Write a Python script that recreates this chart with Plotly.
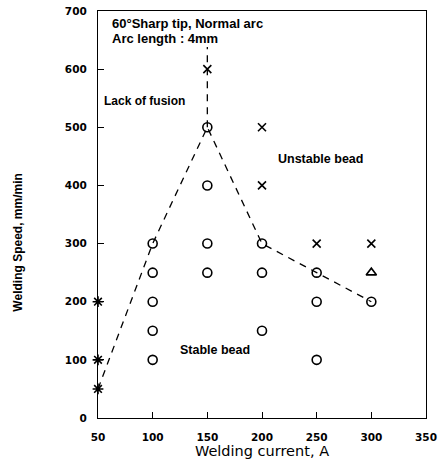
import plotly.graph_objects as go

# Data
stable_x = [100, 100, 100, 100, 100, 150, 150, 150, 150, 200, 200, 200, 250, 250, 250, 300]
stable_y = [300, 250, 200, 150, 100, 500, 400, 300, 250, 300, 250, 150, 250, 200, 100, 200]
unstable_x = [150, 200, 200, 250, 300]
unstable_y = [600, 500, 400, 300, 300]
lof_x = [50, 50, 50]
lof_y = [200, 100, 50]
tri_x = [300]
tri_y = [250]
bound_x = [50, 100, 150, 200, 250, 300]
bound_y = [50, 300, 500, 300, 250, 200]
vert_x = [150, 150]
vert_y = [500, 638]

x_ticks = [50, 100, 150, 200, 250, 300, 350]
y_ticks = [0, 100, 200, 300, 400, 500, 600, 700]

FONT = "Liberation Sans"
WIDE = "DejaVu Sans"

fig = go.Figure()
fig.add_trace(go.Scatter(x=bound_x, y=bound_y, mode="lines",
                         line=dict(color="black", width=1.3, dash="7px,6px"), showlegend=False))
fig.add_trace(go.Scatter(x=vert_x, y=vert_y, mode="lines",
                         line=dict(color="black", width=1.3, dash="7px,6px"), showlegend=False))
fig.add_trace(go.Scatter(x=stable_x, y=stable_y, mode="markers",
                         marker=dict(symbol="circle-open", size=9, color="black", line=dict(width=1.6)),
                         showlegend=False))
fig.add_trace(go.Scatter(x=unstable_x, y=unstable_y, mode="markers",
                         marker=dict(symbol="x-thin-open", size=8, color="black", line=dict(width=1.6)),
                         showlegend=False))
fig.add_trace(go.Scatter(x=lof_x, y=lof_y, mode="markers",
                         marker=dict(symbol="asterisk-open", size=9, color="black", line=dict(width=1.6)),
                         showlegend=False, cliponaxis=False))
fig.add_trace(go.Scatter(x=tri_x, y=tri_y, mode="markers",
                         marker=dict(symbol="triangle-up-open", size=9, color="black", line=dict(width=1.6)),
                         showlegend=False))

tickfont = dict(family=WIDE, size=10.5, color="black", weight="bold")
fig.update_xaxes(range=[50, 350], tickvals=x_ticks, ticks="inside", ticklen=6, tickcolor="black",
                 showline=True, linecolor="black", linewidth=1.3, mirror=True, showgrid=False,
                 zeroline=False, tickfont=tickfont, ticklabelstandoff=9, automargin=False,
                 title=dict(text="Welding current, A", font=dict(family=WIDE, size=14.5, color="black"), standoff=2))
fig.update_yaxes(range=[0, 700], tickvals=y_ticks, ticks="inside", ticklen=6, tickcolor="black",
                 showline=True, linecolor="black", linewidth=1.3, mirror=True, showgrid=False,
                 zeroline=False, tickfont=tickfont, ticklabelstandoff=8, automargin=False)

def ann(x, y, text, size):
    fig.add_annotation(x=x, y=y, xref="x", yref="y", text="<b>" + text + "</b>",
                       showarrow=False, xanchor="left", yanchor="middle",
                       font=dict(family=FONT, size=size, color="black"))

ann(61, 679, "60°Sharp tip, Normal arc", 13)
ann(61, 652, "Arc length : 4mm", 13)
ann(54, 545, "Lack of fusion", 12)
ann(213, 446, "Unstable bead", 12.5)
ann(123, 117, "Stable bead", 12.5)

fig.add_annotation(x=-0.245, y=0.43, xref="x domain", yref="y domain",
                   text="<b>Welding Speed, mm/min</b>", showarrow=False, textangle=-90,
                   xanchor="center", yanchor="middle",
                   font=dict(family=FONT, size=12, color="black"))

fig.update_layout(width=438, height=462, margin=dict(l=98, r=12, t=11, b=44),
                  plot_bgcolor="white", paper_bgcolor="white",
                  font=dict(family=FONT, color="black"))
fig.write_html("out.html")
